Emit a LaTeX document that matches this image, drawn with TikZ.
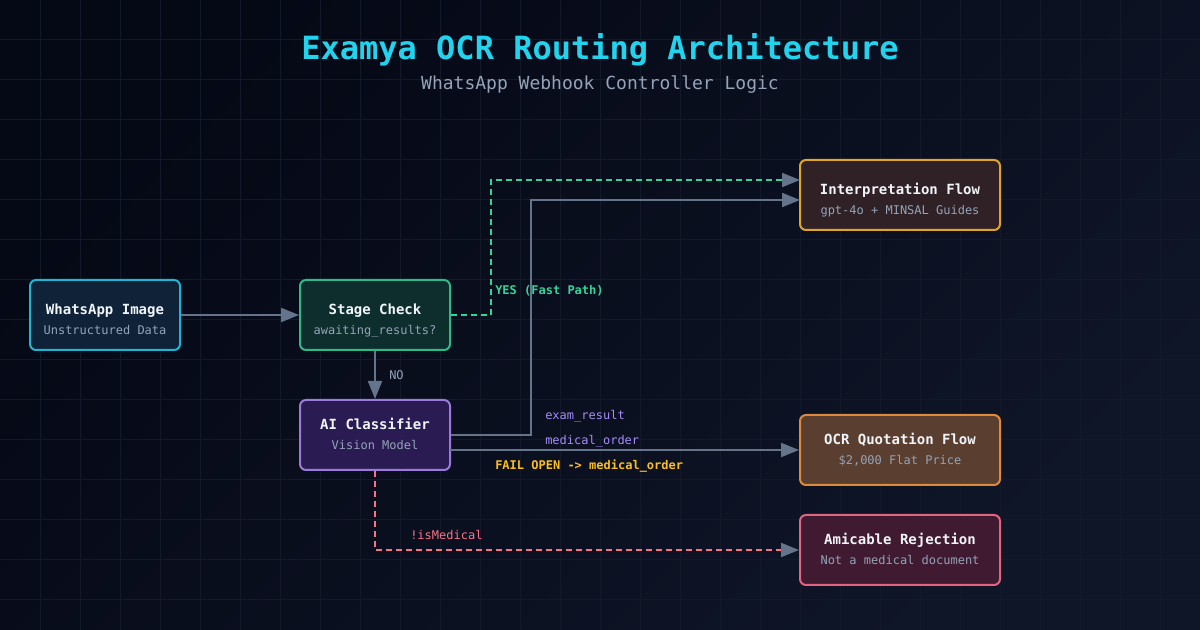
\documentclass[tikz,border=0pt]{standalone}
\usepackage{fontspec}
\setmainfont{DejaVu Sans Mono}
\usetikzlibrary{arrows.meta}

\definecolor{bgtop}{HTML}{050815}
\definecolor{bgbot}{HTML}{0F1628}
\definecolor{gridc}{HTML}{121929}
\definecolor{titlecyan}{HTML}{22D3EE}
\definecolor{subgray}{HTML}{94A3B8}
\definecolor{boxtext}{HTML}{F1F5F9}
\definecolor{edgegray}{HTML}{64748B}
\definecolor{yesgreen}{HTML}{34D399}
\definecolor{labpurple}{HTML}{A78BFA}
\definecolor{failyellow}{HTML}{FBBF24}
\definecolor{nopink}{HTML}{FB7185}
\definecolor{wafill}{HTML}{0F2238}
\definecolor{waline}{HTML}{1FB5D3}
\definecolor{stfill}{HTML}{0E2E2D}
\definecolor{stline}{HTML}{30B888}
\definecolor{aifill}{HTML}{2A1C52}
\definecolor{ailine}{HTML}{9A7BDC}
\definecolor{infill}{HTML}{2F2125}
\definecolor{inline}{HTML}{E0A526}
\definecolor{ocfill}{HTML}{5A3E30}
\definecolor{ocline}{HTML}{DF8A3A}
\definecolor{rjfill}{HTML}{401A31}
\definecolor{rjline}{HTML}{E2647E}

\begin{document}
\begin{tikzpicture}[
    x=0.75pt, y=-0.75pt,
    box/.style={draw, rounded corners=4.5pt, line width=1.5pt, minimum width=112.5pt, minimum height=52.5pt, inner sep=0pt},
    wide box/.style={box, minimum width=150pt},
    wa box/.style={box, draw=waline, fill=wafill},
    stage box/.style={box, draw=stline, fill=stfill},
    ai box/.style={box, draw=ailine, fill=aifill},
    interp box/.style={wide box, draw=inline, fill=infill},
    ocr box/.style={wide box, draw=ocline, fill=ocfill},
    reject box/.style={wide box, draw=rjline, fill=rjfill},
    box title/.style={anchor=base, text=boxtext, font=\fontsize{10.5}{12}\selectfont\bfseries},
    box sub/.style={anchor=base, text=subgray, font=\fontsize{9}{11}\selectfont},
    edge label/.style={anchor=base west, font=\fontsize{9}{11}\selectfont, inner sep=0pt},
    link/.style={line width=1.5pt, draw=edgegray, -{Triangle[length=13.5pt,width=10.5pt,color=edgegray]}},
    yes link/.style={link, draw=yesgreen, dash pattern=on 4.5pt off 3pt},
    reject link/.style={link, draw=nopink, dash pattern=on 4.5pt off 3pt}
]

% Background and grid
\useasboundingbox (0,0) rectangle (1200,630);
\shade[shading=axis, top color=bgtop, bottom color=bgbot, shading angle=45] (0,0) rectangle (1200,630);
\foreach \gx in {40,80,...,1160} {
    \draw[gridc, line width=0.75pt] (\gx,0) -- (\gx,630);
}
\foreach \gy in {40,80,...,600} {
    \draw[gridc, line width=0.75pt] (0,\gy) -- (1200,\gy);
}

% Heading
\node[anchor=base, text=titlecyan, font=\fontsize{24}{28}\selectfont\bfseries] (title) at (600,60) {Examya OCR Routing Architecture};
\node[anchor=base, text=subgray, font=\fontsize{13.5}{16}\selectfont] (subtitle) at (600,90) {WhatsApp Webhook Controller Logic};

% Boxes
\node[wa box] (wa) at (105,315) {};
\node[box title] (wa-t) at (105,315) {WhatsApp Image};
\node[box sub] (wa-s) at (105,335) {Unstructured Data};

\node[stage box] (stage) at (375,315) {};
\node[box title] (stage-t) at (375,315) {Stage Check};
\node[box sub] (stage-s) at (375,335) {awaiting\_results?};

\node[ai box] (ai) at (375,435) {};
\node[box title] (ai-t) at (375,430) {AI Classifier};
\node[box sub] (ai-s) at (375,450) {Vision Model};

\node[interp box] (interp) at (900,195) {};
\node[box title] (interp-t) at (900,195) {Interpretation Flow};
\node[box sub] (interp-s) at (900,215) {gpt-4o + MINSAL Guides};

\node[ocr box] (ocr) at (900,450) {};
\node[box title] (ocr-t) at (900,445) {OCR Quotation Flow};
\node[box sub] (ocr-s) at (900,465) {\$2,000 Flat Price};

\node[reject box] (reject) at (900,550) {};
\node[box title] (reject-t) at (900,545) {Amicable Rejection};
\node[box sub] (reject-s) at (900,565) {Not a medical document};

% Entry points on Interpretation Flow
\coordinate (interp-yes) at (800,180);
\coordinate (interp-ai) at (800,200);
\coordinate (ai-order) at (450,450);

% Connections
\draw[link] (wa) -- (stage);
\draw[link] (stage) -- (ai);
\draw[yes link] (stage.east) -- ++(40,0) |- (interp-yes);
\draw[link] (ai.east) -- ++(80,0) |- (interp-ai);
\draw[link] (ai-order) -- (ai-order -| ocr.west);
\draw[reject link] (ai.south) |- (reject.west);

% Edge labels
\node[edge label, text=subgray] (no-lab) at (389,380) {NO};
\node[edge label, text=yesgreen, font=\fontsize{9}{11}\selectfont\bfseries] (yes-lab) at (495,295) {YES (Fast Path)};
\node[edge label, text=labpurple] (exam-lab) at (545,420) {exam\_result};
\node[edge label, text=labpurple] (order-lab) at (545,445) {medical\_order};
\node[edge label, text=failyellow, font=\fontsize{9}{11}\selectfont\bfseries] (fail-lab) at (495,470) {FAIL OPEN -> medical\_order};
\node[edge label, text=nopink] (med-lab) at (410,540) {!isMedical};

\end{tikzpicture}
\end{document}
